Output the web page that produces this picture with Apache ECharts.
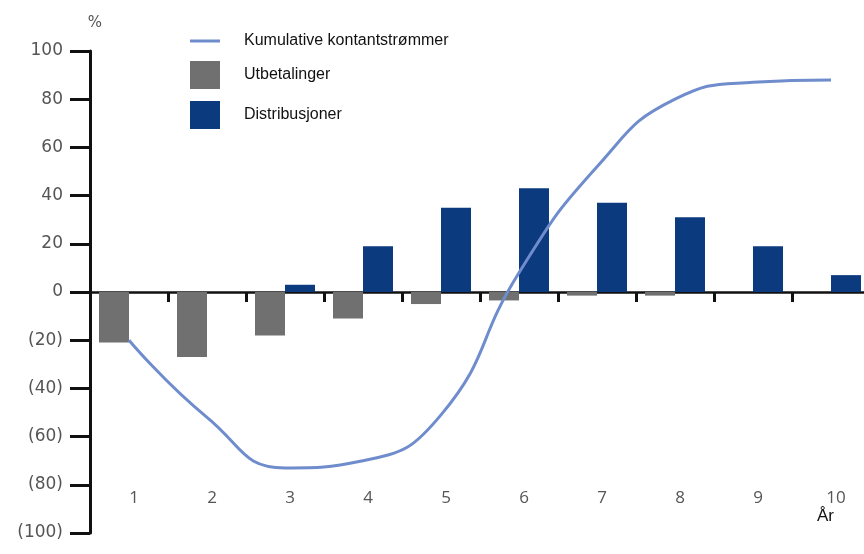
<!DOCTYPE html>
<html>
<head>
<meta charset="utf-8">
<script src="https://cdn.jsdelivr.net/npm/echarts@6/dist/echarts.min.js"></script>
<style>html,body{margin:0;padding:0;background:#fff}#c{width:864px;height:554px}</style>
</head>
<body>
<div id="c"></div>
<script>
const categories = ['1','2','3','4','5','6','7','8','9','10'];
const utbetalinger = [-21, -27, -18, -11, -5, -3.5, -1.5, -1.5, 0, 0];
const distribusjoner = [0, 0, 3, 19, 35, 43, 37, 31, 19, 7];
const kumulative = [-20, -52, -73, -70, -51, 8, 52, 80, 87, 88];
const yTicks = [-100, -80, -60, -40, -20, 0, 20, 40, 60, 80, 100];

const chart = echarts.init(document.getElementById('c'));
chart.setOption({
  animation: false,
  backgroundColor: '#ffffff',
  title: {
    text: 'År', left: 812, top: 503,
    textStyle: { fontFamily: 'Liberation Sans', fontSize: 17, fontWeight: 'normal', color: '#111' }
  },
  legend: {
    orient: 'vertical', left: 185, top: 28,
    itemWidth: 30, itemHeight: 28, itemGap: 12,
    textStyle: { fontFamily: 'Liberation Sans', fontSize: 16, color: '#111', padding: [0, 0, 0, 19] },
    data: [
      { name: 'Kumulative kontantstrømmer', icon: 'path://M0,0 L30,0 L30,3 L0,3 Z' },
      { name: 'Utbetalinger', icon: 'rect' },
      { name: 'Distribusjoner', icon: 'rect' }
    ]
  },
  grid: { left: 90, right: -6, top: 51, bottom: 21, containLabel: false, outerBoundsMode: 'none' },
  xAxis: [
    {
      type: 'category', data: categories,
      axisLine: { onZero: true, lineStyle: { color: '#111', width: 2.5 } },
      axisTick: { show: true, length: 10, lineStyle: { color: '#111', width: 3 } },
      axisLabel: { show: false },
      splitLine: { show: false }
    },
    {
      type: 'category', data: categories, position: 'bottom',
      axisLine: { show: false, onZero: false },
      axisTick: { show: false },
      axisLabel: { inside: true, margin: 26, padding: [0, 0, 0, 10], fontFamily: 'Open Sans', fontSize: 17, color: '#555' },
      splitLine: { show: false }
    }
  ],
  yAxis: {
    type: 'value', min: yTicks[0], max: yTicks[yTicks.length - 1], interval: 20,
    name: '%', nameLocation: 'end', nameGap: 20,
    nameTextStyle: { fontFamily: 'DejaVu Sans', fontSize: 15, color: '#555', padding: [0, 0, 0, 10] },
    axisLine: { show: true, lineStyle: { color: '#111', width: 3 } },
    axisTick: { show: true, length: 20, lineStyle: { color: '#111', width: 3 } },
    axisLabel: {
      margin: 27, fontFamily: 'DejaVu Sans', fontSize: 17, color: '#555',
      formatter: v => v < 0 ? '(' + (-v) + ')' : String(v)
    },
    splitLine: { show: false }
  },
  series: [
    {
      name: 'Utbetalinger', type: 'bar', data: utbetalinger,
      barWidth: 30, barGap: '0%',
      itemStyle: { color: '#707070' }
    },
    {
      name: 'Distribusjoner', type: 'bar', data: distribusjoner,
      barWidth: 30, barGap: '0%',
      itemStyle: { color: '#0b3a7e' }
    },
    {
      name: 'Kumulative kontantstrømmer', type: 'line', data: kumulative,
      smooth: 0.5, symbol: 'none', z: 5,
      lineStyle: { color: '#6f8ccc', width: 3 },
      itemStyle: { color: '#6f8ccc' }
    }
  ]
});
</script>
</body>
</html>
